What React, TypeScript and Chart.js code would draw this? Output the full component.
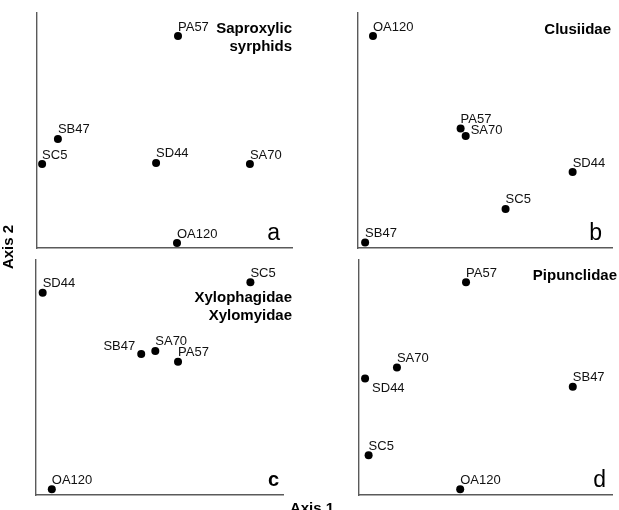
import React, { useEffect, useRef } from 'react';
import { Chart, registerables } from 'chart.js';

Chart.register(...registerables);

const W = 619;
const H = 510;

// Site names (same order for every panel)
const sites = ['PA57', 'SB47', 'SC5', 'SD44', 'SA70', 'OA120'];

// Panel a: Saproxylic syrphids
const saproxylicAxis1 = [55.3, 8.2, 2.0, 46.7, 83.5, 54.9];
const saproxylicAxis2 = [90.2, 46.4, 35.7, 36.2, 35.7, 2.1];

// Panel b: Clusiidae
const clusiidaeAxis1 = [40.4, 2.8, 58.1, 84.5, 42.4, 5.9];
const clusiidaeAxis2 = [50.9, 2.3, 16.6, 32.3, 47.7, 90.2];

// Panel c: Xylophagidae / Xylomyidae
const xylophagidaeAxis1 = [57.5, 42.6, 86.8, 2.7, 48.3, 6.4];
const xylophagidaeAxis2 = [56.7, 60.0, 90.5, 86.1, 61.3, 2.4];

// Panel d: Pipunclidae
const pipunclidaeAxis1 = [42.3, 84.5, 3.8, 2.4, 15.0, 40.0];
const pipunclidaeAxis2 = [90.5, 46.1, 16.9, 49.6, 54.3, 2.4];

type Placement = 'above' | 'right' | 'left' | 'belowRight';

interface PanelSpec {
  title: string[];
  letter: string;
  xs: number[];
  ys: number[];
  area: { left: number; top: number; right: number; bottom: number };
  titleDx: number;
  titleDy: number;
  letterDx: number;
  letterDy: number;
  letterFont: string;
  placements: Record<string, Placement>;
  axisTitles?: boolean;
}

const FONT = '"Liberation Sans", Arial, Helvetica, sans-serif';

const panels: PanelSpec[] = [
  {
    title: ['Saproxylic', 'syrphids'],
    letter: 'a',
    xs: saproxylicAxis1,
    ys: saproxylicAxis2,
    area: { left: 37, top: 13, right: 292, bottom: 248 },
    titleDx: 0,
    titleDy: 20,
    letterDx: -12,
    letterDy: -8,
    letterFont: `23px ${FONT}`,
    placements: {},
    axisTitles: true,
  },
  {
    title: ['Clusiidae'],
    letter: 'b',
    xs: clusiidaeAxis1,
    ys: clusiidaeAxis2,
    area: { left: 358, top: 13, right: 612, bottom: 248 },
    titleDx: -1,
    titleDy: 21,
    letterDx: -10,
    letterDy: -8,
    letterFont: `23px ${FONT}`,
    placements: { SA70: 'right' },
  },
  {
    title: ['Xylophagidae', 'Xylomyidae'],
    letter: 'c',
    xs: xylophagidaeAxis1,
    ys: xylophagidaeAxis2,
    area: { left: 36, top: 260, right: 283, bottom: 495 },
    titleDx: 9,
    titleDy: 42,
    letterDx: -4,
    letterDy: -9,
    letterFont: `bold 20px ${FONT}`,
    placements: { SB47: 'left' },
  },
  {
    title: ['Pipunclidae'],
    letter: 'd',
    xs: pipunclidaeAxis1,
    ys: pipunclidaeAxis2,
    area: { left: 359, top: 260, right: 612, bottom: 495 },
    titleDx: 5,
    titleDy: 20,
    letterDx: -6,
    letterDy: -8,
    letterFont: `23px ${FONT}`,
    placements: { SD44: 'belowRight' },
  },
];

function Panel({ spec }: { spec: PanelSpec }) {
  const ref = useRef<HTMLCanvasElement | null>(null);

  useEffect(() => {
    if (!ref.current) return;
    const annotate = {
      id: 'annotate',
      afterDatasetsDraw(chart: any) {
        const ctx: CanvasRenderingContext2D = chart.ctx;
        const ca = chart.chartArea;
        const meta = chart.getDatasetMeta(0);
        ctx.save();
        ctx.fillStyle = '#111';
        ctx.textBaseline = 'alphabetic';
        ctx.font = `13px ${FONT}`;
        meta.data.forEach((pt: any, i: number) => {
          const name = sites[i];
          const p = spec.placements[name] || 'above';
          let x = pt.x;
          let y = pt.y - 5.5;
          ctx.textAlign = 'left';
          if (p === 'right') {
            x = pt.x + 5;
            y = pt.y - 1.5;
          } else if (p === 'left') {
            ctx.textAlign = 'right';
            x = pt.x - 6;
            y = pt.y - 4;
          } else if (p === 'belowRight') {
            x = pt.x + 7;
            y = pt.y + 14;
          }
          ctx.fillText(name, x, y);
        });
        ctx.fillStyle = '#000';
        ctx.font = `bold 15px ${FONT}`;
        ctx.textAlign = 'right';
        spec.title.forEach((line, k) => {
          ctx.fillText(line, ca.right + spec.titleDx, ca.top + spec.titleDy + k * 18);
        });
        ctx.font = spec.letterFont;
        ctx.fillText(spec.letter, ca.right + spec.letterDx, ca.bottom + spec.letterDy);
        if (spec.axisTitles) {
          ctx.font = `bold 15px ${FONT}`;
          ctx.textAlign = 'center';
          ctx.save();
          ctx.translate(13, 247);
          ctx.rotate(-Math.PI / 2);
          ctx.fillText('Axis 2', 0, 0);
          ctx.restore();
          ctx.font = `bold 15px ${FONT}`;
          ctx.fillText('Axis 1', 312, 513);
        }
        ctx.restore();
      },
    };

    const axis = {
      type: 'linear' as const,
      min: 0,
      max: 100,
      grid: { display: false, drawTicks: false },
      ticks: { display: false },
      border: { display: true, color: '#5a5a5a', width: 1.4 },
    };

    const chart = new Chart(ref.current, {
      type: 'scatter',
      data: {
        labels: sites,
        datasets: [
          {
            data: spec.xs.map((x, i) => ({ x, y: spec.ys[i] })),
            backgroundColor: '#000',
            borderWidth: 0,
            pointRadius: 4,
            clip: false as any,
          },
        ],
      },
      options: {
        animation: false,
        responsive: false,
        devicePixelRatio: 1,
        layout: {
          padding: {
            left: spec.area.left,
            top: spec.area.top,
            right: W - spec.area.right,
            bottom: H - spec.area.bottom,
          },
        },
        plugins: {
          legend: { display: false },
          tooltip: { enabled: false },
        },
        scales: { x: axis, y: axis },
      },
      plugins: [annotate],
    });
    return () => chart.destroy();
  }, [spec]);

  return (
    <canvas
      ref={ref}
      width={W}
      height={H}
      style={{ position: 'absolute', left: 0, top: 0, width: W, height: H }}
    />
  );
}

export default function App() {
  return (
    <div
      style={{
        position: 'absolute',
        left: 0,
        top: 0,
        width: W,
        height: H,
        background: '#fff',
        overflow: 'hidden',
      }}
    >
      {panels.map((p) => (
        <Panel key={p.letter} spec={p} />
      ))}
    </div>
  );
}
